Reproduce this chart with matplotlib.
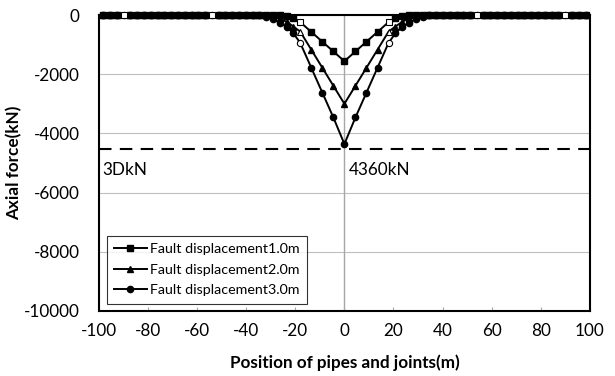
import numpy as np
import matplotlib.pyplot as plt

plt.rcParams['font.family'] = ['Lato', 'DejaVu Sans']
plt.rcParams['axes.unicode_minus'] = False

# node positions (m): 4.5 m elements near the fault, 36/13 m elements further out
x_half = [0.0, 4.5, 9.0, 13.5, 18.0] + [18.0 + k * 36.0 / 13.0 for k in range(1, 30)]
joints = [18.0, 18.0 + 36.0, 18.0 + 72.0]

# axial force (kN) from the fault outwards, one side only
f1_half = [-1560, -1230, -900, -570, -240, -115, -40, -5] + [0] * 26
f2_half = [-3000, -2390, -1780, -1170, -560, -390, -230, -115, -35] + [0] * 25
f3_half = [-4360, -3460, -2620, -1780, -940, -620, -400, -260, -145, -57] + [0] * 24

limit_3d = -4530
peak_label = '4360kN'
labels = ['Fault displacement1.0m', 'Fault displacement2.0m', 'Fault displacement3.0m']
markers = ['s', '^', 'o']


def mirror(half):
    half = list(half)
    return np.array(half[:0:-1] + half)


x = np.array([-v for v in x_half[:0:-1]] + x_half)
series = [mirror(f1_half), mirror(f2_half), mirror(f3_half)]
is_joint = np.array([any(abs(abs(v) - j) < 1e-6 for j in joints) for v in x])

fig = plt.figure(figsize=(6.15, 3.76), dpi=100)
ax = fig.add_axes([0.161, 0.173, 0.798, 0.787])

ax.axhline(limit_3d, color='black', lw=1.5, ls=(0, (6, 4)), zorder=2)
ax.axvline(0, color='#a6a6a6', lw=1, zorder=1)

# first series drawn on top so its squares show along the zero line
for i, (y, m, lab) in enumerate(zip(series, markers, labels)):
    ms = 4.5
    z = 10 - 2 * i
    ax.plot(x, y, color='black', lw=1.4, marker=m, ms=ms, clip_on=False,
            markevery=list(np.where(~is_joint)[0]), label=lab, zorder=z)
    ax.plot(x[is_joint], y[is_joint], ls='none', marker=m, ms=ms, clip_on=False,
            mfc='white', mec='black', mew=0.8, zorder=z + 1)

ax.set_xlim(-100, 100)
ax.set_ylim(-10000, 0)
ax.set_xticks(np.arange(-100, 101, 20))
ax.set_yticks(np.arange(-10000, 1, 2000))
ax.yaxis.grid(True, color='#bfbfbf', lw=0.8)
ax.set_axisbelow(True)
ax.tick_params(axis='x', direction='in', length=3, color='#a6a6a6',
               labelsize=12.3, pad=9)
ax.tick_params(axis='y', length=0, labelsize=12.3, pad=14)
for s in ax.spines.values():
    s.set_linewidth(1.5)
    s.set_color('black')

ax.text(-98.5, limit_3d - 450, '3DkN', fontsize=12.3, va='top', ha='left')
ax.text(2, limit_3d - 450, peak_label, fontsize=12.3, va='top', ha='left')

ax.set_xlabel('Position of pipes and joints(m)', fontsize=12.3,
              fontweight='bold', labelpad=11)
ax.set_ylabel('Axial force(kN)', fontsize=12.3, fontweight='bold', labelpad=1)

leg = ax.legend(loc='lower left', bbox_to_anchor=(0.016, 0.025), fontsize=10.3,
                frameon=True, fancybox=False, edgecolor='black',
                handlelength=2.3, handletextpad=0.2, borderpad=0.5,
                labelspacing=0.6, borderaxespad=0.0)
leg.get_frame().set_linewidth(0.8)

fig.savefig('out.png', dpi=100)
